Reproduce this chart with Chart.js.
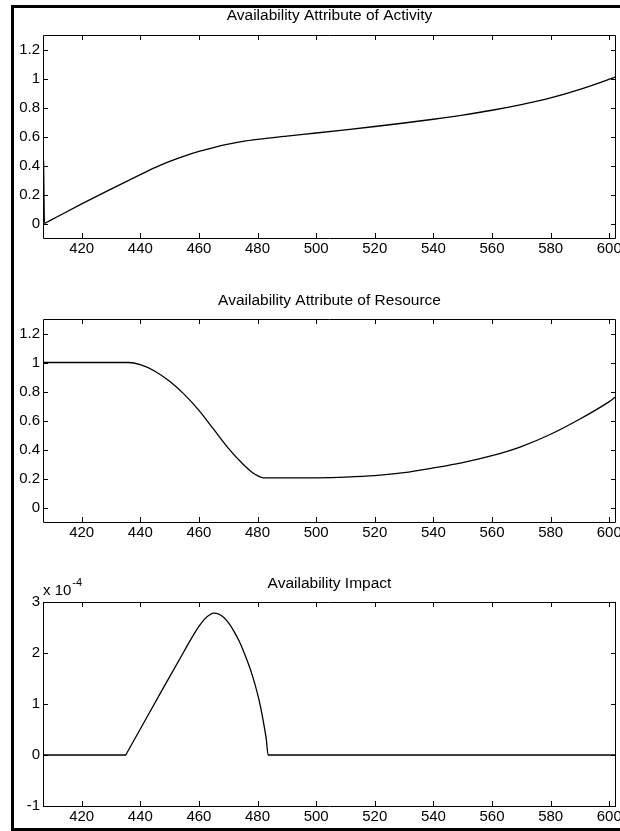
<!DOCTYPE html>
<html>
<head>
<meta charset="utf-8">
<script src="https://cdn.jsdelivr.net/npm/chart.js@4.4.0/dist/chart.umd.min.js"></script>
<style>
  html, body { margin: 0; padding: 0; background: #fff; }
  body { width: 620px; height: 831px; position: relative; overflow: hidden; }
  canvas { position: absolute; left: 0; }
  #frame {
    position: absolute; left: 11px; top: 5px; width: 640px; height: 826px;
    box-sizing: border-box; border: 3px solid #000; pointer-events: none; z-index: 5;
  }
</style>
</head>
<body>
<canvas id="activity-canvas" width="620" height="283" style="top:0px"></canvas>
<canvas id="resource-canvas" width="620" height="284" style="top:283px"></canvas>
<canvas id="impact-canvas" width="620" height="264" style="top:567px"></canvas>
<div id="frame"></div>

<script>
// x range and ticks shared by all three panels
const xMin = 406.8
const xMax = 602.3
const xTicks = [420, 440, 460, 480, 500, 520, 540, 560, 580, 600]

// Availability Attribute of Activity
const activityX = [407, 407.3, 407.8, 412, 420, 430, 440, 445, 450, 455, 460, 465, 470, 475, 480, 490, 500, 510, 520, 530, 540, 550, 560, 570, 580, 590, 600, 602]
const activityY = [0.43, 0, 0.005, 0.05, 0.135, 0.237, 0.337, 0.385, 0.428, 0.465, 0.497, 0.524, 0.547, 0.566, 0.58, 0.603, 0.624, 0.646, 0.669, 0.693, 0.719, 0.748, 0.781, 0.82, 0.866, 0.925, 0.995, 1.01]

// Availability Attribute of Resource
const resourceX = [407, 420, 436, 440, 445, 450, 455, 460, 465, 470, 475, 478, 480, 482, 490, 500, 510, 520, 530, 540, 550, 560, 570, 580, 590, 600, 602]
const resourceY = [1, 1, 1, 0.985, 0.94, 0.87, 0.78, 0.67, 0.54, 0.41, 0.3, 0.245, 0.22, 0.205, 0.204, 0.205, 0.21, 0.22, 0.24, 0.273, 0.31, 0.357, 0.42, 0.505, 0.61, 0.73, 0.76]

// Availability Impact (values in units of 1e-4)
const impactX = [407, 435, 435.5, 448, 455, 458, 460, 462, 464, 465, 466, 468, 470, 472, 474, 476, 478, 480, 481, 482, 483, 483.6, 490, 602]
const impactY = [0, 0, 0.05, 1.33, 2.04, 2.34, 2.52, 2.67, 2.76, 2.78, 2.775, 2.72, 2.6, 2.42, 2.2, 1.92, 1.6, 1.2, 0.95, 0.65, 0.3, 0, 0, 0]

const attrTicks = [0, 0.2, 0.4, 0.6, 0.8, 1, 1.2]
const impactTicks = [-1, 0, 1, 2, 3]

Chart.defaults.font.family = "'Liberation Sans', Arial, sans-serif"
Chart.defaults.color = '#000'

// matlab style box with inward ticks on all four sides
const matlabAxes = {
    id: 'matlabAxes',
    afterDraw(chart, args, opts) {
        const {ctx, chartArea: a, scales: {x, y}} = chart
        const tl = 5
        ctx.save()
        ctx.strokeStyle = '#000'
        ctx.lineWidth = 1
        ctx.beginPath()
        ctx.rect(Math.round(a.left) + 0.5, Math.round(a.top) + 0.5, Math.round(a.width) - 1, Math.round(a.height))
        x.ticks.forEach(t => {
            const px = Math.round(x.getPixelForValue(t.value)) + 0.5
            ctx.moveTo(px, a.top); ctx.lineTo(px, a.top + tl)
            ctx.moveTo(px, a.bottom); ctx.lineTo(px, a.bottom - tl)
        })
        y.ticks.forEach(t => {
            const py = Math.round(y.getPixelForValue(t.value)) + 0.5
            ctx.moveTo(a.left, py); ctx.lineTo(a.left + tl, py)
            ctx.moveTo(a.right, py); ctx.lineTo(a.right - tl, py)
        })
        ctx.stroke()

        if (opts.exponent) {
            ctx.fillStyle = '#000'
            ctx.textAlign = 'left'
            ctx.textBaseline = 'alphabetic'
            ctx.font = "15px 'Liberation Sans', Arial, sans-serif"
            const base = 'x 10'
            ctx.fillText(base, a.left, a.top - 7)
            const w = ctx.measureText(base).width
            ctx.font = "11px 'Liberation Sans', Arial, sans-serif"
            ctx.fillText(opts.exponent, a.left + w + 1, a.top - 16)
        }
        ctx.restore()
    }
}

function makePanel(canvas, title, xs, ys, yMin, yMax, yTicks, titlePad, xAxisHeight, exponent) {
    const points = xs.map((v, i) => ({x: v, y: ys[i]}))
    return new Chart(canvas, {
        type: 'line',
        data: {
            datasets: [{
                label: title,
                data: points,
                borderColor: '#000',
                borderWidth: 1.3,
                pointRadius: 0,
                fill: false,
                cubicInterpolationMode: 'monotone'
            }]
        },
        options: {
            responsive: false,
            animation: false,
            layout: {padding: {left: 0, right: 4, top: 0, bottom: 0}},
            plugins: {
                legend: {display: false},
                tooltip: {enabled: false},
                title: {
                    display: true,
                    text: title,
                    fullSize: false,
                    color: '#000',
                    font: {size: 15.5, weight: 'normal', lineHeight: '18px'},
                    padding: titlePad
                },
                matlabAxes: {exponent: exponent}
            },
            scales: {
                x: {
                    type: 'linear',
                    min: xMin,
                    max: xMax,
                    grid: {display: false, drawTicks: false},
                    border: {display: false},
                    ticks: {
                        font: {size: 15},
                        color: '#000',
                        padding: 2,
                        maxRotation: 0,
                        autoSkip: false,
                        callback: v => String(v)
                    },
                    afterBuildTicks: s => { s.ticks = xTicks.map(v => ({value: v})) },
                    afterFit: s => { s.height = xAxisHeight; s.paddingLeft = 0; s.paddingRight = 0 }
                },
                y: {
                    min: yMin,
                    max: yMax,
                    grid: {display: false, drawTicks: false},
                    border: {display: false},
                    ticks: {
                        font: {size: 15},
                        color: '#000',
                        padding: 3,
                        callback: v => String(+v.toFixed(2))
                    },
                    afterBuildTicks: s => { s.ticks = yTicks.map(v => ({value: v})) },
                    afterFit: s => { s.width = 43; s.paddingTop = 0; s.paddingBottom = 0 }
                }
            }
        },
        plugins: [matlabAxes]
    })
}

makePanel(document.querySelector('#activity-canvas'), 'Availability Attribute of Activity',
    activityX, activityY, -0.1, 1.3, attrTicks, {top: 7, bottom: 10}, 45, null)

makePanel(document.querySelector('#resource-canvas'), 'Availability Attribute of Resource',
    resourceX, resourceY, -0.1, 1.3, attrTicks, {top: 9, bottom: 9}, 45, null)

makePanel(document.querySelector('#impact-canvas'), 'Availability Impact',
    impactX, impactY, -1, 3, impactTicks, {top: 8, bottom: 9}, 25, '-4')
</script>
</body>
</html>
